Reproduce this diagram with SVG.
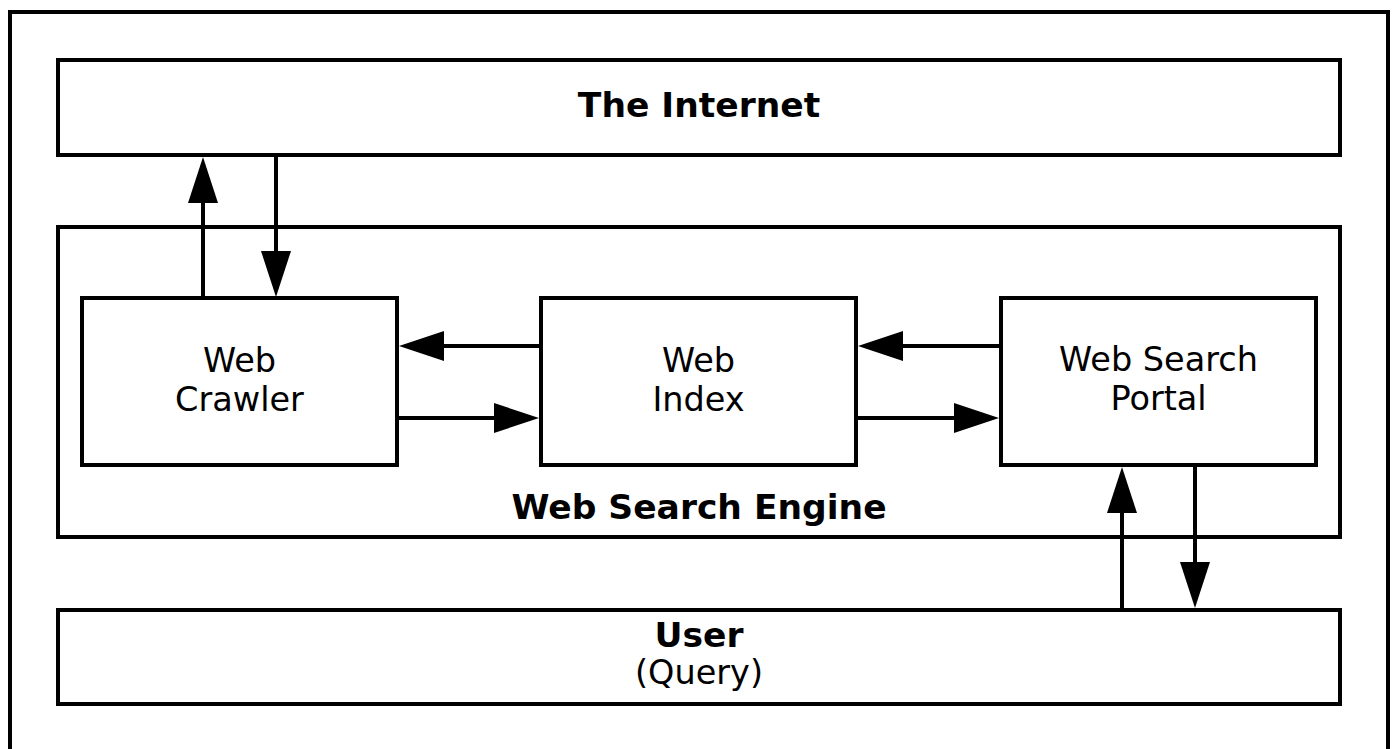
<svg xmlns="http://www.w3.org/2000/svg" width="1397" height="749" viewBox="0 0 1397 749">
<style>
.box{fill:#fff;stroke:#000;stroke-width:4}
.frame{fill:#fff;stroke:#000;stroke-width:4}
.t{font-family:"DejaVu Sans",Verdana,sans-serif;font-size:33.5px;fill:#000;text-anchor:middle}
.b{font-weight:bold;font-size:34.5px}
.c{stroke:#000;stroke-width:4;fill:none}
.h{fill:#000;stroke:none}
</style>
<rect class="frame" x="10" y="12" width="1378" height="742"/>
<g id="internet">
<rect class="box" x="58" y="60" width="1282" height="95"/>
<text class="t b" x="699" y="117">The Internet</text>
</g>
<g id="engine">
<rect class="box" x="58" y="227" width="1282" height="310"/>
<text class="t b" x="699" y="519">Web Search Engine</text>
</g>
<g id="crawler">
<rect class="box" x="82" y="298" width="315" height="167"/>
<text class="t" x="239.5" y="372">Web</text>
<text class="t" x="239.5" y="411">Crawler</text>
</g>
<g id="index">
<rect class="box" x="541" y="298" width="315" height="167"/>
<text class="t" x="698.5" y="372">Web</text>
<text class="t" x="698.5" y="411">Index</text>
</g>
<g id="portal">
<rect class="box" x="1001" y="298" width="315" height="167"/>
<text class="t" x="1158.5" y="371">Web Search</text>
<text class="t" x="1158.5" y="410">Portal</text>
</g>
<g id="user">
<rect class="box" x="58" y="610" width="1282" height="94"/>
<text class="t b" x="699" y="647">User</text>
<text class="t" x="699" y="684">(Query)</text>
</g>
<g id="connectors">
<line class="c" x1="203" y1="298" x2="203" y2="200"/>
<polygon class="h" points="203,157 188,203 218,203"/>
<line class="c" x1="276" y1="155" x2="276" y2="255"/>
<polygon class="h" points="276,297 261,251 291,251"/>
<line class="c" x1="541" y1="346" x2="440" y2="346"/>
<polygon class="h" points="399,346 444,331 444,361"/>
<line class="c" x1="397" y1="418" x2="498" y2="418"/>
<polygon class="h" points="539,418 494,403 494,433"/>
<line class="c" x1="1001" y1="346" x2="900" y2="346"/>
<polygon class="h" points="858,346 903,331 903,361"/>
<line class="c" x1="856" y1="418" x2="958" y2="418"/>
<polygon class="h" points="999,418 954,403 954,433"/>
<line class="c" x1="1122" y1="610" x2="1122" y2="510"/>
<polygon class="h" points="1122,467 1107,513 1137,513"/>
<line class="c" x1="1195" y1="465" x2="1195" y2="566"/>
<polygon class="h" points="1195,608 1180,562 1210,562"/>
</g>
</svg>
